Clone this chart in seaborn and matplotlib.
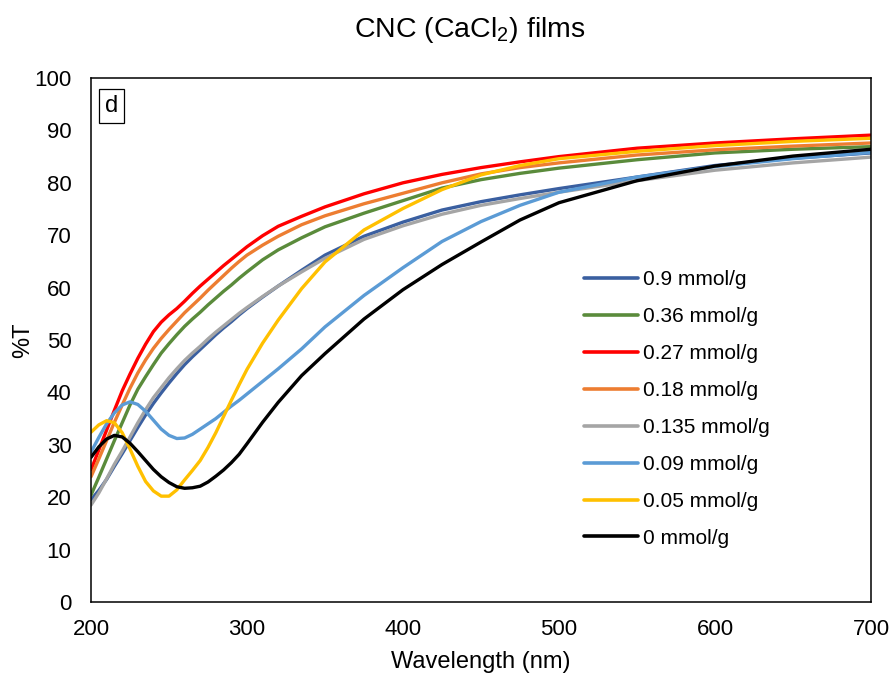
import numpy as np
import pandas as pd
import matplotlib
matplotlib.use("Agg")
import matplotlib.pyplot as plt
import seaborn as sns

wavelength = [200, 205, 210, 215, 220, 225, 230, 235, 240, 245, 250, 255, 260, 265, 270, 275, 280, 285, 290, 295,
              300, 310, 320, 335, 350, 375, 400, 425, 450, 475, 500, 550, 600, 650, 700]

t_0_9 = [19.5, 21.3, 23.4, 25.9, 28.3, 30.8, 33.3, 35.7, 37.9, 39.9, 41.8, 43.6, 45.3, 46.8, 48.2, 49.6, 51.0, 52.3, 53.5, 54.8,
         56.0, 58.2, 60.3, 63.3, 66.2, 69.8, 72.5, 74.8, 76.4, 77.7, 78.9, 81.1, 83.3, 84.7, 85.7]
t_0_36 = [20.4, 23.8, 27.3, 30.8, 34.2, 37.6, 40.6, 43.0, 45.3, 47.5, 49.3, 51.0, 52.6, 54.0, 55.3, 56.7, 58.0, 59.3, 60.5, 61.8,
          63.0, 65.3, 67.2, 69.5, 71.6, 74.2, 76.6, 79.0, 80.6, 81.8, 82.8, 84.4, 85.7, 86.4, 86.9]
t_0_27 = [25.2, 29.0, 32.8, 36.6, 40.3, 43.5, 46.5, 49.2, 51.6, 53.4, 54.8, 56.0, 57.4, 58.9, 60.3, 61.6, 62.9, 64.2, 65.4, 66.6,
          67.8, 69.9, 71.7, 73.6, 75.4, 77.9, 80.0, 81.6, 82.9, 84.0, 85.0, 86.6, 87.6, 88.4, 89.1]
t_0_18 = [23.9, 27.3, 30.8, 34.3, 37.6, 40.8, 43.7, 46.2, 48.4, 50.3, 52.0, 53.6, 55.2, 56.6, 58.0, 59.5, 60.9, 62.3, 63.7, 65.0,
          66.2, 68.1, 69.8, 72.0, 73.7, 76.0, 78.0, 80.0, 81.7, 82.9, 83.8, 85.3, 86.3, 87.0, 87.6]
t_0_135 = [18.5, 20.8, 23.5, 26.3, 28.8, 31.5, 34.2, 36.7, 39.0, 40.9, 42.8, 44.5, 46.1, 47.5, 48.8, 50.2, 51.5, 52.7, 53.9, 55.1,
           56.2, 58.3, 60.3, 63.0, 65.6, 69.2, 71.8, 74.0, 75.7, 77.0, 78.2, 80.4, 82.4, 83.8, 84.9]
t_0_09 = [28.6, 31.4, 34.0, 36.1, 37.6, 38.2, 37.7, 36.4, 34.7, 33.0, 31.8, 31.2, 31.3, 32.0, 33.0, 34.0, 35.0, 36.2, 37.4, 38.5,
          39.7, 42.1, 44.5, 48.3, 52.5, 58.5, 63.8, 68.8, 72.6, 75.7, 78.2, 81.1, 83.1, 84.6, 85.8]
t_0_05 = [32.4, 33.8, 34.6, 34.2, 32.3, 29.2, 25.9, 23.0, 21.2, 20.2, 20.2, 21.4, 23.3, 25.1, 27.0, 29.5, 32.3, 35.4, 38.5, 41.5,
          44.4, 49.4, 53.8, 59.8, 64.9, 71.0, 75.1, 78.7, 81.5, 83.3, 84.6, 86.0, 87.1, 87.9, 88.5]
t_0 = [27.6, 29.6, 31.1, 31.8, 31.5, 30.3, 28.7, 27.0, 25.3, 23.9, 22.8, 22.0, 21.7, 21.8, 22.1, 22.9, 24.0, 25.2, 26.6, 28.2,
       30.2, 34.3, 38.1, 43.2, 47.4, 54.0, 59.6, 64.4, 68.7, 72.9, 76.2, 80.4, 83.2, 85.1, 86.4]

labels = ["0.9 mmol/g", "0.36 mmol/g", "0.27 mmol/g", "0.18 mmol/g",
          "0.135 mmol/g", "0.09 mmol/g", "0.05 mmol/g", "0 mmol/g"]
series = [t_0_9, t_0_36, t_0_27, t_0_18, t_0_135, t_0_09, t_0_05, t_0]
colors = ["#3a5fa0", "#5a8b3b", "#ff0000", "#ed7d31", "#a5a5a5", "#5b9bd5", "#ffc000", "#000000"]

xticks = [200, 300, 400, 500, 600, 700]
yticks = [0, 10, 20, 30, 40, 50, 60, 70, 80, 90, 100]

rows = []
for lab, vals in zip(labels, series):
    for w, v in zip(wavelength, vals):
        rows.append({"Wavelength": w, "T": v, "Series": lab})
df = pd.DataFrame(rows)

sns.set_style("white")
plt.rcParams["font.family"] = ["Liberation Sans", "DejaVu Sans"]
plt.rcParams["mathtext.fontset"] = "custom"
plt.rcParams["mathtext.rm"] = "Liberation Sans"
plt.rcParams["text.color"] = "black"
plt.rcParams["axes.labelcolor"] = "black"

fig = plt.figure(figsize=(8.96, 6.73), dpi=100)
ax = fig.add_axes([91 / 896, 1 - 602 / 673, 780 / 896, 524 / 673])

sns.lineplot(data=df, x="Wavelength", y="T", hue="Series", hue_order=labels,
             palette=dict(zip(labels, colors)), linewidth=2.4, ax=ax, sort=True,
             estimator=None)

ax.set_xlim(200, 700)
ax.set_ylim(0, 100)
ax.set_xticks(xticks)
ax.set_yticks(yticks)
ax.tick_params(axis="both", length=0, labelsize=16, colors="black")
ax.tick_params(axis="y", pad=14)
ax.tick_params(axis="x", pad=12)
for s in ax.spines.values():
    s.set_visible(True)
    s.set_color("black")
    s.set_linewidth(1.1)

ax.set_xlabel("Wavelength (nm)", fontsize=17, labelpad=8, color="black")
ax.set_ylabel("%T", fontsize=17, labelpad=0, color="black")
fig.text(470 / 896, 1 - 30 / 673, "CNC (CaCl$_2$) films", fontsize=20.5,
         ha="center", va="center", color="black")

ax.text(0.018, 0.968, "d", transform=ax.transAxes, fontsize=17, va="top", ha="left",
        color="black",
        bbox=dict(boxstyle="square,pad=0.25", facecolor="white", edgecolor="black", linewidth=0.9))

leg = ax.legend(loc="upper left", bbox_to_anchor=(0.632, 0.633), frameon=False,
                fontsize=15, handlelength=2.6, handletextpad=0.25, labelspacing=0.86,
                borderpad=0, borderaxespad=0)
for line in leg.get_lines():
    line.set_linewidth(2.6)
for t in leg.get_texts():
    t.set_color("black")

fig.savefig("out.png", dpi=100)
